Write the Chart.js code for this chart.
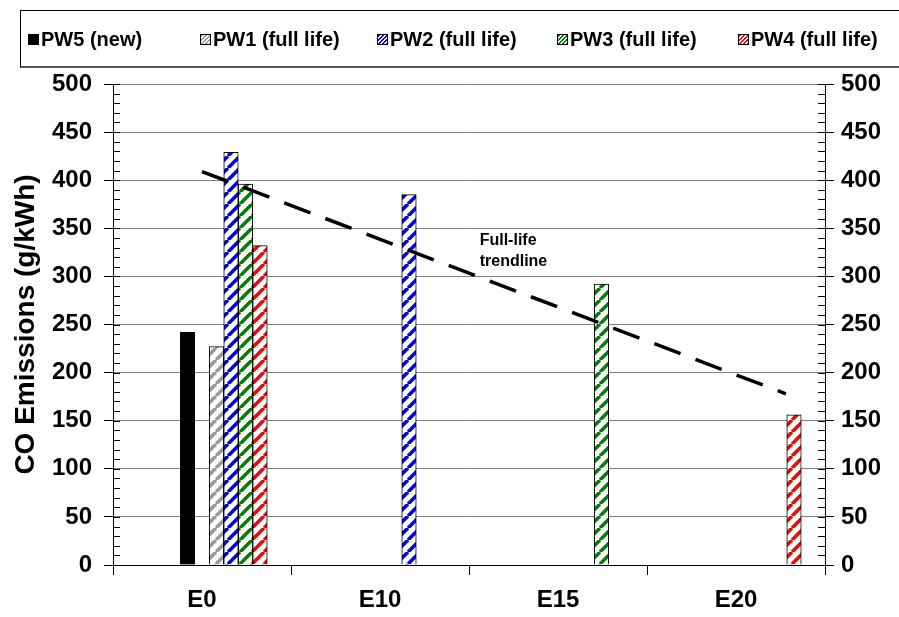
<!DOCTYPE html>
<html>
<head>
<meta charset="utf-8">
<script src="https://cdn.jsdelivr.net/npm/chart.js@4"></script>
<style>
  html, body { margin: 0; padding: 0; background: #fff; overflow: hidden; }
  #wrap { position: relative; width: 899px; height: 617px; }
  #legend {
    position: absolute; left: 20px; top: 10px; width: 900px; height: 58px;
    border: 1px solid #000; border-bottom: 2px solid #555; box-sizing: border-box;
    font: bold 20px "Liberation Sans", Arial, sans-serif; color: #000;
  }
  #legend .item { position: absolute; top: 0; height: 56px; display: flex; align-items: center; white-space: nowrap; }
  #legend .sw { width: 9px; height: 9px; border: 1px solid #000; margin-right: 2px; }
</style>
</head>
<body>
<div id="wrap">
  <canvas id="chart" width="899" height="617"></canvas>
  <div id="legend"></div>
</div>
<script>
const categories = ['E0', 'E10', 'E15', 'E20'];
const seriesNames = ['PW5 (new)', 'PW1 (full life)', 'PW2 (full life)', 'PW3 (full life)', 'PW4 (full life)'];
const pw5New = [242, null, null, null];
const pw1Full = [227, null, null, null];
const pw2Full = [429, 385, null, null];
const pw3Full = [396, null, 292, null];
const pw4Full = [332, null, null, 156];
// trendline ends, x in category index units
const trendX = [0, 3.28];
const trendY = [409, 178];
const noteLines = ['Full-life', 'trendline'];

const FONT = '"Liberation Sans", Arial, sans-serif';
const colors = ['#000000', '#999999', '#0000ff', '#008000', '#ff0000'];

function stripes(color) {
    const n = 12;
    const c = document.createElement('canvas');
    c.width = n; c.height = n;
    const g = c.getContext('2d');
    g.fillStyle = '#fff';
    g.fillRect(0, 0, n, n);
    g.strokeStyle = color;
    g.lineWidth = 3.6;
    g.beginPath();
    for (let k = -n; k <= 2 * n; k += n) {
        g.moveTo(k, n);
        g.lineTo(k + n, 0);
    }
    g.stroke();
    return g.createPattern(c, 'repeat');
}

// legend
const legendEl = document.getElementById('legend');
const legendLeft = [7, 179, 356, 536, 717];
seriesNames.forEach((name, i) => {
    const it = document.createElement('div');
    it.className = 'item';
    it.style.left = legendLeft[i] + 'px';
    const sw = document.createElement('span');
    sw.className = 'sw';
    sw.style.background = i === 0 ? '#000'
        : `repeating-linear-gradient(135deg, ${colors[i]} 0 1.5px, #fff 1.5px 3px)`;
    it.appendChild(sw);
    it.appendChild(document.createTextNode(name));
    legendEl.appendChild(it);
});

const points = arr => arr.map((v, i) => ({ x: i, y: v }));

function spacer() {
    return { label: '', data: points([null, null, null, null]), order: 1 };
}
function barSet(label, data, fill) {
    return {
        label: label,
        data: points(data),
        backgroundColor: fill,
        borderColor: '#000',
        borderWidth: 1,
        order: 1
    };
}

const minorTicks = {
    id: 'minorTicks',
    afterDraw(chart) {
        const { ctx, chartArea: a, scales: { y } } = chart;
        ctx.save();
        ctx.strokeStyle = '#000';
        ctx.lineWidth = 1;
        ctx.beginPath();
        for (let v = 0; v <= 500; v += 10) {
            const py = Math.round(y.getPixelForValue(v)) + 0.5;
            ctx.moveTo(a.left, py); ctx.lineTo(a.left + 7, py);
            ctx.moveTo(a.right - 7, py); ctx.lineTo(a.right, py);
        }
        ctx.stroke();
        ctx.restore();
    }
};

const trendNote = {
    id: 'trendNote',
    afterDraw(chart) {
        const { ctx, scales: { x, y } } = chart;
        ctx.save();
        ctx.fillStyle = '#000';
        ctx.font = 'bold 16px ' + FONT;
        ctx.textAlign = 'left';
        ctx.textBaseline = 'middle';
        const px = x.getPixelForValue(1.56);
        const py = y.getPixelForValue(337);
        noteLines.forEach((t, i) => ctx.fillText(t, px, py + i * 21));
        ctx.restore();
    }
};

const tickFont = { family: FONT, size: 24, weight: 'bold' };

new Chart(document.getElementById('chart'), {
    type: 'bar',
    data: {
        datasets: [
            spacer(), spacer(), spacer(),
            barSet(seriesNames[0], pw5New, '#000'),
            spacer(),
            barSet(seriesNames[1], pw1Full, stripes(colors[1])),
            barSet(seriesNames[2], pw2Full, stripes(colors[2])),
            barSet(seriesNames[3], pw3Full, stripes(colors[3])),
            barSet(seriesNames[4], pw4Full, stripes(colors[4])),
            {
                type: 'line',
                label: 'Full-life trendline',
                data: trendX.map((x, i) => ({ x: x, y: trendY[i] })),
                borderColor: '#000',
                borderWidth: 3.5,
                borderDash: [28, 16],
                pointRadius: 0,
                fill: false,
                order: 0
            }
        ]
    },
    options: {
        responsive: false,
        animation: false,
        layout: { padding: { top: 84, left: 0, right: 0, bottom: 0 } },
        datasets: { bar: { barThickness: 14.5 } },
        plugins: { legend: { display: false }, tooltip: { enabled: false } },
        scales: {
            x: {
                type: 'linear',
                min: -0.5,
                max: 3.5,
                offset: false,
                grid: {
                    offset: false,
                    drawOnChartArea: false,
                    tickLength: 10,
                    color: ctx => Number.isInteger(ctx.tick.value) ? 'rgba(0,0,0,0)' : '#000'
                },
                border: { color: '#000' },
                ticks: {
                    stepSize: 0.5,
                    autoSkip: false,
                    maxRotation: 0,
                    font: tickFont,
                    color: '#000',
                    padding: 11,
                    callback: v => Number.isInteger(v) ? categories[v] : ''
                },
                afterFit: s => { s.height = 52; }
            },
            y: {
                position: 'left',
                min: 0,
                max: 500,
                ticks: { stepSize: 50, font: tickFont, color: '#000', padding: 12 },
                grid: { color: '#808080', tickColor: '#000', tickLength: 9 },
                border: { color: '#000' },
                title: {
                    display: true,
                    text: 'CO Emissions (g/kWh)',
                    font: { family: FONT, size: 28, weight: 'bold' },
                    color: '#000',
                    padding: { top: 9, bottom: 0 }
                },
                afterFit: s => { s.width = 113; }
            },
            y2: {
                position: 'right',
                min: 0,
                max: 500,
                ticks: { stepSize: 50, font: tickFont, color: '#000', padding: 7 },
                grid: { drawOnChartArea: false, color: '#000', tickLength: 9 },
                border: { color: '#000' },
                afterFit: s => { s.width = 74; }
            }
        }
    },
    plugins: [minorTicks, trendNote]
});
</script>
</body>
</html>
